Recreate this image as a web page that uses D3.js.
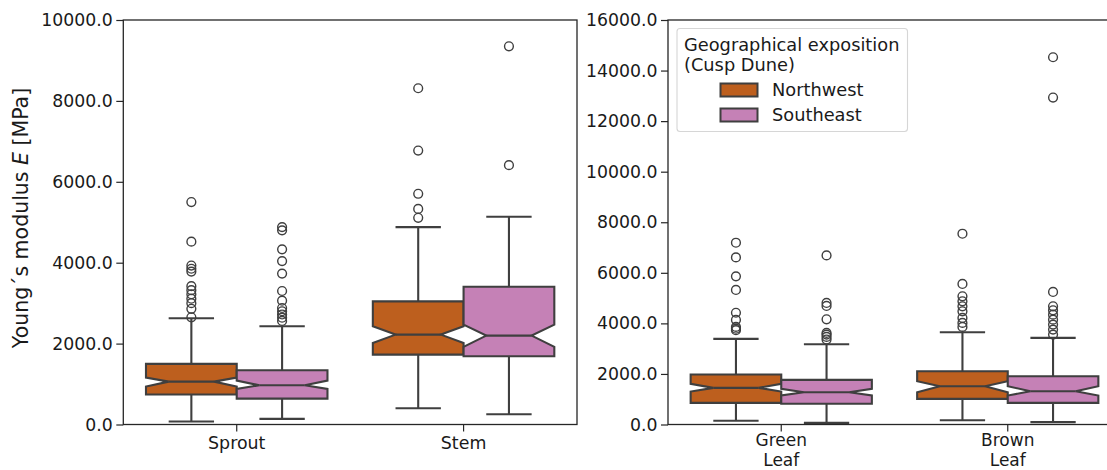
<!DOCTYPE html>
<html>
<head>
<meta charset="utf-8">
<script src="https://cdn.jsdelivr.net/npm/d3@7"></script>
<style>
  body { margin: 0; background: #fff; }
  svg { font-family: "DejaVu Sans", sans-serif; }
</style>
</head>
<body>
<svg id="chart" width="1107" height="470"></svg>
<script>
// categories and series
const leftGroups = ["Sprout", "Stem"];
const rightGroups = ["Green Leaf", "Brown Leaf"];
const groupLabels = { "Sprout": ["Sprout"], "Stem": ["Stem"], "Green Leaf": ["Green", "Leaf"], "Brown Leaf": ["Brown", "Leaf"] };
const series = ["Northwest", "Southeast"];
const colours = ["#bd5f1e", "#c581b6"];

// tick labels
const leftTicks = [0, 2000, 4000, 6000, 8000, 10000];
const rightTicks = [0, 2000, 4000, 6000, 8000, 10000, 12000, 14000, 16000];

// box statistics, order: Sprout, Stem, Green Leaf, Brown Leaf
const nwWhiskerLow  = [75, 403, 146, 171];
const nwQ1          = [740, 1728, 857, 1015];
const nwMedian      = [1060, 2222, 1450, 1514];
const nwQ3          = [1500, 3045, 1975, 2106];
const nwWhiskerHigh = [2625, 4880, 3386, 3647];
const nwNotchLow    = [938, 2017, 1304, 1277];
const nwNotchHigh   = [1160, 2428, 1608, 1711];
const nwOutliers = [
  [5500, 4520, 3930, 3850, 3780, 3420, 3320, 3220, 3110, 3000, 2860, 2650],
  [8313, 6773, 5704, 5330, 5110],
  [7190, 6610, 5860, 5322, 4420, 4137, 3860, 3790, 3730],
  [7546, 5559, 5070, 4873, 4675, 4477, 4215, 4018, 3860]
];

const seWhiskerLow  = [140, 255, 66, 92];
const seQ1          = [640, 1688, 818, 857];
const seMedian      = [970, 2198, 1277, 1316];
const seQ3          = [1340, 3407, 1766, 1909];
const seWhiskerHigh = [2430, 5136, 3173, 3426];
const seNotchLow    = [881, 1918, 1146, 1146];
const seNotchHigh   = [1086, 2469, 1410, 1514];
const seOutliers = [
  [4880, 4800, 4330, 4040, 3730, 3300, 3060, 2880, 2800, 2720, 2640, 2560],
  [9350, 6412],
  [6689, 4808, 4690, 4161, 3623, 3556, 3465, 3360],
  [14527, 12933, 5244, 4675, 4517, 4346, 4148, 3951, 3754, 3556]
];

const allGroups = leftGroups.concat(rightGroups);
function statsFor(gi) {
  return [
    { s: 0, lo: nwWhiskerLow[gi], q1: nwQ1[gi], med: nwMedian[gi], q3: nwQ3[gi], hi: nwWhiskerHigh[gi], nlo: nwNotchLow[gi], nhi: nwNotchHigh[gi], out: nwOutliers[gi] },
    { s: 1, lo: seWhiskerLow[gi], q1: seQ1[gi], med: seMedian[gi], q3: seQ3[gi], hi: seWhiskerHigh[gi], nlo: seNotchLow[gi], nhi: seNotchHigh[gi], out: seOutliers[gi] }
  ];
}

const svg = d3.select("#chart");
const lineCol = "#3f3f3f";
const spineCol = "#262626";
const textCol = "#1a1a1a";
const plotTop = 20, plotBottom = 424.5;

function panel(groups, yMax, ticks, x0, x1, legend) {
  const x = d3.scaleBand().domain(groups).range([x0, x1]);
  const y = d3.scaleLinear().domain([0, yMax]).range([plotBottom, plotTop]);
  const inner = d3.scaleBand().domain(d3.range(series.length)).range([x.bandwidth() * 0.1, x.bandwidth() * 0.9]);
  const g = svg.append("g");

  // y axis
  const ya = g.append("g").attr("transform", `translate(${x0},0)`)
    .call(d3.axisLeft(y).tickValues(ticks).tickFormat(d3.format(".1f")).tickSize(7).tickPadding(3.5));
  ya.select(".domain").remove();
  ya.selectAll(".tick line").attr("stroke", spineCol).attr("stroke-width", 1.2);
  ya.selectAll(".tick text").attr("font-size", 17.3).attr("fill", textCol).attr("font-family", "DejaVu Sans");

  // x axis
  const xa = g.append("g").attr("transform", `translate(0,${plotBottom})`)
    .call(d3.axisBottom(x).tickSize(7).tickFormat(""));
  xa.select(".domain").remove();
  xa.selectAll(".tick line").attr("stroke", spineCol).attr("stroke-width", 1.2);
  xa.selectAll(".tick").each(function (d) {
    const lines = groupLabels[d];
    const two = lines.length > 1;
    const t = d3.select(this).append("text").attr("fill", textCol).attr("font-size", two ? 17 : 17.4)
      .attr("text-anchor", "middle").attr("font-family", "DejaVu Sans");
    lines.forEach((line, i) => {
      t.append("tspan").attr("x", 0).attr("y", (two ? 21.5 : 24) + i * 20).text(line);
    });
  });

  // boxes
  groups.forEach(grp => {
    const gi = allGroups.indexOf(grp);
    statsFor(gi).forEach(st => {
      const w = inner.bandwidth();
      const left = x(grp) + inner(st.s);
      const right = left + w;
      const cx = left + w / 2;
      const capL = cx - w / 4, capR = cx + w / 4;
      const bg = g.append("g");
      // whiskers
      bg.append("line").attr("x1", cx).attr("x2", cx).attr("y1", y(st.q1)).attr("y2", y(st.lo));
      bg.append("line").attr("x1", cx).attr("x2", cx).attr("y1", y(st.q3)).attr("y2", y(st.hi));
      bg.append("line").attr("x1", capL).attr("x2", capR).attr("y1", y(st.lo)).attr("y2", y(st.lo));
      bg.append("line").attr("x1", capL).attr("x2", capR).attr("y1", y(st.hi)).attr("y2", y(st.hi));
      bg.selectAll("line").attr("stroke", lineCol).attr("stroke-width", 2.1);
      // notched box
      const pts = [
        [left, y(st.q1)], [left, y(st.nlo)], [capL, y(st.med)], [left, y(st.nhi)], [left, y(st.q3)],
        [right, y(st.q3)], [right, y(st.nhi)], [capR, y(st.med)], [right, y(st.nlo)], [right, y(st.q1)]
      ];
      bg.append("path").attr("d", d3.line()(pts) + "Z")
        .attr("fill", colours[st.s]).attr("stroke", lineCol).attr("stroke-width", 2.1)
        .attr("stroke-linejoin", "miter");
      bg.append("line").attr("x1", capL).attr("x2", capR).attr("y1", y(st.med)).attr("y2", y(st.med))
        .attr("stroke", lineCol).attr("stroke-width", 2.1);
      // outliers
      bg.selectAll("circle").data(st.out).join("circle")
        .attr("cx", cx).attr("cy", d => y(d)).attr("r", 4.4)
        .attr("fill", "none").attr("stroke", lineCol).attr("stroke-width", 1.4);
    });
  });

  // frame
  g.append("rect").attr("x", x0).attr("y", plotTop).attr("width", x1 - x0).attr("height", plotBottom - plotTop)
    .attr("fill", "none").attr("stroke", spineCol).attr("stroke-width", 1.3);

  if (legend) {
    const lg = g.append("g");
    lg.append("rect").attr("x", 677).attr("y", 28.5).attr("width", 230.5).attr("height", 103).attr("rx", 3)
      .attr("fill", "#fff").attr("fill-opacity", 0.8).attr("stroke", "#d6d6d6").attr("stroke-width", 1.1);
    lg.append("text").attr("x", 684).attr("y", 51).attr("font-size", 17.8).attr("fill", textCol)
      .text("Geographical exposition");
    lg.append("text").attr("x", 684).attr("y", 70.5).attr("font-size", 17.8).attr("fill", textCol)
      .text("(Cusp Dune)");
    series.forEach((s, i) => {
      const yy = 83.5 + i * 25;
      lg.append("rect").attr("x", 720.5).attr("y", yy).attr("width", 37).attr("height", 13)
        .attr("fill", colours[i]).attr("stroke", lineCol).attr("stroke-width", 2);
      lg.append("text").attr("x", 772).attr("y", yy + 12.8).attr("font-size", 17.8).attr("fill", textCol).text(s);
    });
  }
}

panel(leftGroups, 10000, leftTicks, 123.3, 577, false);
panel(rightGroups, 16000, rightTicks, 668, 1121, true);

// y label
const yl = svg.append("text").attr("transform", "translate(28,218) rotate(-90)")
  .attr("text-anchor", "middle").attr("font-size", 20.5).attr("fill", textCol);
yl.append("tspan").text("Young\u00b4s modulus ");
yl.append("tspan").attr("font-style", "italic").text("E");
yl.append("tspan").text(" [MPa]");
</script>
</body>
</html>
